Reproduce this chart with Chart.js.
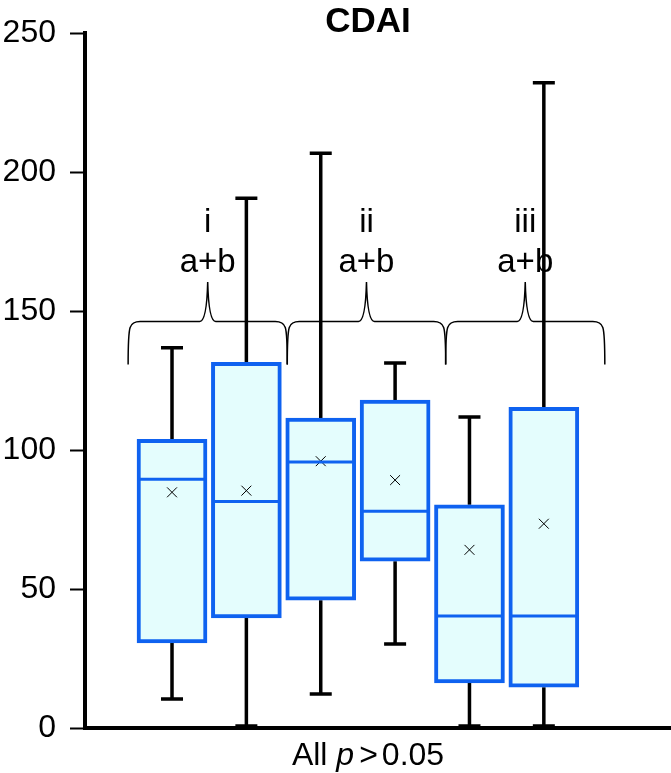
<!DOCTYPE html>
<html>
<head>
<meta charset="utf-8">
<script src="https://cdn.jsdelivr.net/npm/chart.js@4.4.1/dist/chart.umd.min.js"></script>
<style>
  body { margin: 0; background: #fff; }
  #wrap { width: 671px; height: 773px; position: relative; }
</style>
</head>
<body>
<div id="wrap"><canvas id="cdaiChart"></canvas></div>
<script>
// Box positions along the x axis (two boxes per group)
const xPositions = [1, 2, 3, 4, 5, 6];

// Box plot values
const whiskerLow  = [10.4, 0.7, 12.2, 30.2, 0.7, 0.7];
const q1          = [30.6, 39.6, 46.0, 60.0, 16.2, 14.7];
const medians     = [89.5, 81.5, 95.7, 78.0, 40.3, 40.3];
const q3          = [103.9, 131.6, 111.5, 118.0, 80.3, 115.4];
const whiskerHigh = [136.8, 190.6, 206.8, 131.3, 111.9, 232.2];
const means       = [84.8, 85.4, 96.0, 89.2, 64.1, 73.5];

// y axis ticks
const yTicks = [0, 50, 100, 150, 200, 250];

// Group annotations (braces over each pair of boxes)
const groupLabels = ['i', 'ii', 'iii'];
const compareLabel = 'a+b';
const braceSpans = [[0.41, 2.55], [2.55, 4.68], [4.68, 6.82]];
const braceLevel = 146.3;
const braceFoot = 130.8;
const braceTip = 160.5;

const titleText = 'CDAI';
const FONT = '"Liberation Sans", Arial, Helvetica, sans-serif';
const boxBlue = '#0f62f0';
const boxFill = '#e4fdfd';

// Whiskers, medians, braces and texts
const boxExtras = {
    id: 'boxExtras',
    beforeDatasetsDraw(chart) {
        const ctx = chart.ctx;
        const xs = chart.scales.x, ys = chart.scales.y;
        ctx.save();
        ctx.strokeStyle = '#000';
        ctx.lineWidth = 3.5;
        xPositions.forEach((p, i) => {
            const x = xs.getPixelForValue(p);
            const segs = [[q3[i], whiskerHigh[i]], [q1[i], whiskerLow[i]]];
            segs.forEach(([from, to]) => {
                const y0 = ys.getPixelForValue(from), y1 = ys.getPixelForValue(to);
                ctx.beginPath();
                ctx.moveTo(x, y0);
                ctx.lineTo(x, y1);
                ctx.moveTo(x - 11, y1);
                ctx.lineTo(x + 11, y1);
                ctx.stroke();
            });
        });
        ctx.restore();
    },
    afterDatasetsDraw(chart) {
        const ctx = chart.ctx;
        const ys = chart.scales.y;
        const bars = chart.getDatasetMeta(1).data;
        ctx.save();
        ctx.strokeStyle = boxBlue;
        ctx.lineWidth = 3;
        bars.forEach((bar, i) => {
            const y = ys.getPixelForValue(medians[i]);
            ctx.beginPath();
            ctx.moveTo(bar.x - bar.width / 2 + 2, y);
            ctx.lineTo(bar.x + bar.width / 2 - 2, y);
            ctx.stroke();
        });
        ctx.restore();
    },
    afterDraw(chart) {
        const ctx = chart.ctx;
        const xs = chart.scales.x, ys = chart.scales.y;
        const yH = ys.getPixelForValue(braceLevel);
        const yF = ys.getPixelForValue(braceFoot);
        const yT = ys.getPixelForValue(braceTip);
        ctx.save();
        ctx.strokeStyle = '#000';
        ctx.lineWidth = 1.5;
        braceSpans.forEach(([a, b], i) => {
            const xa = xs.getPixelForValue(a);
            const xb = xs.getPixelForValue(b);
            const xm = (xa + xb) / 2;
            const r = 12, s = 8;
            ctx.beginPath();
            ctx.moveTo(xa, yF);
            ctx.quadraticCurveTo(xa, yH + r, xa + 2, yH + 6);
            ctx.quadraticCurveTo(xa + 4, yH, xa + r, yH);
            ctx.lineTo(xm - s, yH);
            ctx.quadraticCurveTo(xm - 1, yH, xm, yT);
            ctx.quadraticCurveTo(xm + 1, yH, xm + s, yH);
            ctx.lineTo(xb - r, yH);
            ctx.quadraticCurveTo(xb - 4, yH, xb - 2, yH + 6);
            ctx.quadraticCurveTo(xb, yH + r, xb, yF);
            ctx.stroke();

            ctx.fillStyle = '#000';
            ctx.font = '33px ' + FONT;
            ctx.textAlign = 'center';
            ctx.textBaseline = 'alphabetic';
            ctx.fillText(compareLabel, xm, 272);
            ctx.fillText(groupLabels[i], xm, 232);
        });

        // title
        const cx = 368;
        ctx.fillStyle = '#000';
        ctx.font = 'bold 35px ' + FONT;
        ctx.textAlign = 'center';
        ctx.fillText(titleText, cx, 32);

        // x axis caption with italic p
        const parts = [
            { t: 'All ', f: '32px ' + FONT, gap: 0 },
            { t: 'p', f: 'italic 32px ' + FONT, gap: 5 },
            { t: '>', f: '32px ' + FONT, gap: 4 },
            { t: '0.05', f: '32px ' + FONT, gap: 0 }
        ];
        let total = 0;
        parts.forEach(p => { ctx.font = p.f; p.w = ctx.measureText(p.t).width; total += p.w + p.gap; });
        let x = cx - total / 2;
        ctx.textAlign = 'left';
        parts.forEach(p => {
            ctx.font = p.f;
            ctx.fillText(p.t, x, 765);
            x += p.w + p.gap;
        });
        ctx.restore();
    }
};

function initChart() {
    const ctx = document.getElementById('cdaiChart').getContext('2d');
    new Chart(ctx, {
        type: 'bar',
        data: {
            datasets: [{
                type: 'scatter',
                data: xPositions.map((p, i) => ({ x: p, y: means[i] })),
                pointStyle: 'crossRot',
                radius: 7,
                borderColor: '#000',
                borderWidth: 1,
                order: 0
            }, {
                type: 'bar',
                data: xPositions.map((p, i) => ({ x: p, y: [q1[i], q3[i]] })),
                backgroundColor: boxFill,
                borderColor: boxBlue,
                borderWidth: 4,
                borderSkipped: false,
                barThickness: 70,
                order: 1
            }]
        },
        options: {
            responsive: true,
            maintainAspectRatio: false,
            animation: false,
            layout: { autoPadding: false, padding: { top: 33, right: 0, left: 0, bottom: 0 } },
            plugins: {
                legend: { display: false },
                tooltip: { enabled: false },
                title: { display: false }
            },
            scales: {
                x: {
                    type: 'linear',
                    min: -0.17,
                    max: 7.71,
                    offset: false,
                    ticks: { display: false },
                    grid: { display: false, drawTicks: false },
                    border: { display: true, color: '#000', width: 4 },
                    afterFit: s => { s.height = 45; }
                },
                y: {
                    min: 0,
                    max: 250,
                    afterBuildTicks: s => { s.ticks = yTicks.map(v => ({ value: v })); },
                    ticks: {
                        color: '#000',
                        font: { family: FONT, size: 32 },
                        padding: 14
                    },
                    grid: {
                        drawOnChartArea: false,
                        drawTicks: true,
                        tickLength: 15,
                        tickWidth: 2,
                        tickColor: '#000'
                    },
                    border: { display: true, color: '#000', width: 4 },
                    afterFit: s => { s.width = 85; }
                }
            }
        },
        plugins: [boxExtras]
    });
}

document.addEventListener('DOMContentLoaded', function () {
    initChart();
});
</script>
</body>
</html>
